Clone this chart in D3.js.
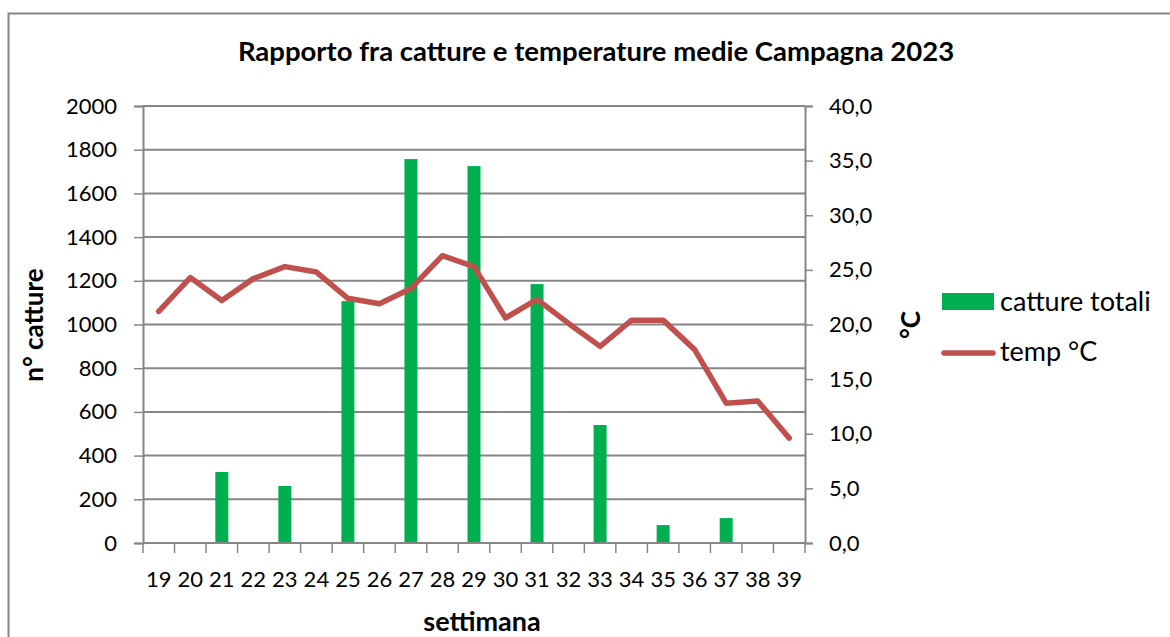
<!DOCTYPE html>
<html>
<head>
<meta charset="utf-8">
<script src="https://cdn.jsdelivr.net/npm/d3@7"></script>
<style>
  body { margin: 0; background: #fff; }
  text { font-family: Lato, "Open Sans", sans-serif; fill: #000; }
</style>
</head>
<body>
<svg id="chart" width="1170" height="637"></svg>
<script>
// data
var weeks = ["19","20","21","22","23","24","25","26","27","28","29","30","31","32","33","34","35","36","37","38","39"];
var catture = [0,0,325,0,261,0,1107,0,1757,0,1725,0,1185,0,540,0,82,0,114,0,0];
var temp = [21.2,24.3,22.2,24.2,25.3,24.8,22.4,21.9,23.3,26.3,25.3,20.6,22.3,20.1,18.0,20.4,20.4,17.7,12.8,13.0,9.6];
var leftTicks = [0,200,400,600,800,1000,1200,1400,1600,1800,2000];
var rightTicks = [0,5,10,15,20,25,30,35,40];

var svg = d3.select("#chart");
var pLeft = 143, pRight = 805, pTop = 106, pBottom = 543;
var grey = "#868686";

// outer frame
svg.append("rect").attr("x",8.5).attr("y",13.5).attr("width",1300).attr("height",800)
  .attr("fill","none").attr("stroke",grey).attr("stroke-width",2);

var xb = d3.scaleBand().domain(weeks).range([pLeft,pRight]);
var y = d3.scaleLinear().domain([0,2000]).range([pBottom,pTop]);
var y2 = d3.scaleLinear().domain([0,40]).range([pBottom,pTop]);

// gridlines
svg.append("g").selectAll("line").data(leftTicks.slice(1)).enter().append("line")
  .attr("x1",pLeft).attr("x2",pRight)
  .attr("y1",function(d){return y(d)}).attr("y2",function(d){return y(d)})
  .attr("stroke",grey).attr("stroke-width",2);

// bars
svg.append("g").selectAll("rect").data(catture).enter().append("rect")
  .attr("x",function(d,i){return xb(weeks[i]) + xb.bandwidth()/2 - 6.5})
  .attr("width",13)
  .attr("y",function(d){return y(d)})
  .attr("height",function(d){return pBottom - y(d)})
  .attr("fill","#00B050");

// left axis
var ga = svg.append("g").attr("transform","translate("+pLeft+",0)")
  .call(d3.axisLeft(y).tickValues(leftTicks).tickSize(9).tickPadding(17).tickFormat(d3.format("d")));
// right axis
var gr = svg.append("g").attr("transform","translate("+pRight+",0)")
  .call(d3.axisRight(y2).tickValues(rightTicks).tickSize(8).tickPadding(16).tickFormat(function(d){return d3.format(".1f")(d).replace(".",",")}));
// bottom axis
var gb = svg.append("g").attr("transform","translate(0,"+pBottom+")")
  .call(d3.axisBottom(xb).tickSize(0).tickPadding(28));
svg.append("g").selectAll("line").data(weeks.concat(["end"])).enter().append("line")
  .attr("x1",function(d,i){return pLeft + i*xb.step()}).attr("x2",function(d,i){return pLeft + i*xb.step()})
  .attr("y1",pBottom).attr("y2",pBottom+10).attr("stroke",grey).attr("stroke-width",1.5);

[ga,gr,gb].forEach(function(g){
  g.selectAll(".domain").attr("stroke",grey).attr("stroke-width",2);
  g.selectAll(".tick line").attr("stroke",grey).attr("stroke-width",1.5);
  g.selectAll("text").style("font-size","22px").attr("fill","#000");
});
gb.select(".domain").attr("d","M"+pLeft+",0H"+pRight);

// temperature line
var line = d3.line()
  .x(function(d,i){return xb(weeks[i]) + xb.bandwidth()/2})
  .y(function(d){return y2(d)});
svg.append("path").datum(temp).attr("d",line)
  .attr("fill","none").attr("stroke","#C0504D").attr("stroke-width",5.5)
  .attr("stroke-linejoin","round").attr("stroke-linecap","round");

// titles
svg.append("text").attr("x",596).attr("y",61).attr("text-anchor","middle")
  .style("font-size","27.5px").style("font-weight","bold")
  .text("Rapporto fra catture e temperature medie Campagna 2023");
svg.append("text").attr("transform","translate(43,325) rotate(-90)").attr("text-anchor","middle")
  .style("font-size","26px").style("font-weight","bold").text("n° catture");
svg.append("text").attr("transform","translate(920,325) rotate(-90)").attr("text-anchor","middle")
  .style("font-size","26px").style("font-weight","bold").text("°C");
svg.append("text").attr("x",482).attr("y",631).attr("text-anchor","middle")
  .style("font-size","27px").style("font-weight","bold").text("settimana");

// legend
var lg = svg.append("g");
lg.append("rect").attr("x",942).attr("y",293).attr("width",52).attr("height",17).attr("fill","#00B050");
lg.append("text").attr("x",1000).attr("y",311).style("font-size","27px").text("catture totali");
lg.append("line").attr("x1",944).attr("x2",993).attr("y1",353).attr("y2",353)
  .attr("stroke","#C0504D").attr("stroke-width",5.5).attr("stroke-linecap","round");
lg.append("text").attr("x",1000).attr("y",361).style("font-size","27px").text("temp °C");
</script>
</body>
</html>
